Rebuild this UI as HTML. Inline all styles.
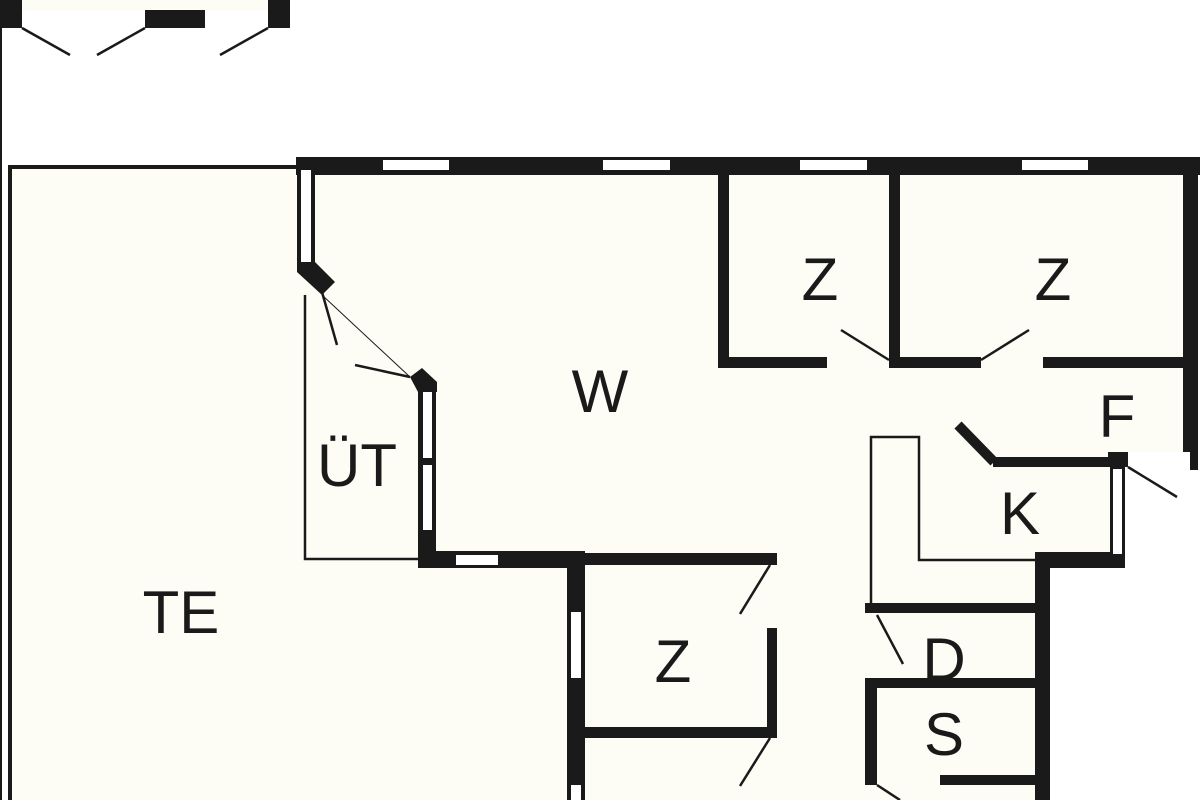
<!DOCTYPE html>
<html><head><style>html,body{margin:0;padding:0;background:#fff;}svg{display:block}</style></head>
<body>
<svg width="1200" height="800" viewBox="0 0 1200 800" xmlns="http://www.w3.org/2000/svg" font-family="Liberation Sans, sans-serif">
<rect width="1200" height="800" fill="#fff"/>
<!-- interior fills -->
<rect x="20" y="0" width="250" height="10" fill="#fdfdf6"/>
<rect x="10" y="167" width="290" height="640" fill="#fdfdf6"/>
<polygon points="300,160 1190,160 1190,470 1125,470 1125,568 1050,568 1050,800 300,800" fill="#fdfdf6"/>
<!-- top left fragment -->
<g fill="#1a1a1a">
<rect x="0" y="0" width="22" height="28"/><rect x="145" y="10" width="60" height="18"/><rect x="268" y="0" width="22" height="28"/>
</g>
<g stroke="#1a1a1a" stroke-width="2.5" fill="none">
<line x1="22" y1="28" x2="70" y2="55"/><line x1="145" y1="28" x2="97" y2="55"/><line x1="268" y1="28" x2="220" y2="55"/>
</g>
<line x1="1" y1="28" x2="1" y2="800" stroke="#1a1a1a" stroke-width="2"/>
<!-- TE outline -->
<path d="M10,800 V167 H300" stroke="#1a1a1a" stroke-width="4" fill="none"/>
<g fill="#1a1a1a">
<!-- top wall -->
<rect x="296" y="157" width="904" height="18"/>
<rect x="1183" y="157" width="15" height="313"/>
<!-- left W wall -->
<rect x="297" y="157" width="18" height="108"/>
<polygon points="297,262 315,262 335,282 322,295 297,272"/>
<polygon points="410,377 422,368 437,382 437,392 418,392"/>
<rect x="418" y="385" width="18" height="180"/>
<rect x="418" y="551" width="167" height="17"/>
<rect x="585" y="553" width="192" height="12"/>
<rect x="567" y="553" width="18" height="247"/>
<rect x="767" y="628" width="10" height="110"/>
<rect x="585" y="727" width="192" height="11"/>
<!-- upper Z rooms -->
<rect x="718" y="170" width="11" height="198"/>
<rect x="718" y="357" width="109" height="11"/>
<rect x="889" y="170" width="11" height="198"/>
<rect x="889" y="357" width="92" height="11"/>
<rect x="1043" y="357" width="145" height="11"/>
<!-- K -->
<rect x="993" y="457" width="120" height="10"/>
<rect x="1108" y="452" width="20" height="15"/>
<rect x="1110" y="467" width="15" height="101"/>
<rect x="1035" y="552" width="90" height="16"/>
<rect x="1035" y="552" width="15" height="248"/>
<rect x="865" y="603" width="172" height="10"/>
<rect x="865" y="678" width="172" height="10"/>
<rect x="865" y="678" width="12" height="107"/>
<rect x="940" y="775" width="97" height="10"/>
</g>
<line x1="958" y1="425" x2="994" y2="462" stroke="#1a1a1a" stroke-width="10"/>
<!-- windows -->
<g fill="#fff">
<rect x="383" y="160" width="66" height="10"/><rect x="603" y="160" width="67" height="10"/>
<rect x="800" y="160" width="67" height="10"/><rect x="1022" y="160" width="66" height="10"/>
<rect x="301" y="170" width="10" height="92"/>
<rect x="423" y="392" width="9" height="66"/><rect x="423" y="465" width="9" height="65"/>
<rect x="456" y="555" width="42" height="10"/>
<rect x="571" y="612" width="10" height="66"/><rect x="571" y="785" width="10" height="15"/>
<rect x="1113" y="469" width="9" height="85"/>
<rect x="1128" y="452" width="62" height="18"/>
</g>
<!-- thin lines -->
<g stroke="#1a1a1a" stroke-width="2.5" fill="none">
<path d="M305,295 V559 H420"/>
<path d="M871,605 V437 H919 V560 H1035"/>
<line x1="322" y1="292" x2="337" y2="345"/>
<line x1="355" y1="365" x2="410" y2="377"/>
<line x1="770" y1="565" x2="740" y2="614"/>
<line x1="770" y1="738" x2="740" y2="786"/>
<line x1="841" y1="330" x2="889" y2="360"/>
<line x1="1029" y1="330" x2="981" y2="360"/>
<line x1="1128" y1="467" x2="1177" y2="497"/>
<line x1="877" y1="615" x2="903" y2="664"/>
<line x1="877" y1="785" x2="900" y2="800"/>
</g>
<line x1="322" y1="295" x2="410" y2="377" stroke="#1a1a1a" stroke-width="1"/>
<!-- labels -->
<g fill="#1a1a1a" font-size="60" text-anchor="middle">
<text x="181" y="633">TE</text>
<text x="600" y="412">W</text>
<text x="357" y="486">ÜT</text>
<text x="820" y="300">Z</text>
<text x="1053" y="300">Z</text>
<text x="673" y="682">Z</text>
<text x="1117" y="437">F</text>
<text x="1020" y="534">K</text>
<text x="944" y="680">D</text>
<text x="944" y="755">S</text>
</g>
</svg>
</body></html>
